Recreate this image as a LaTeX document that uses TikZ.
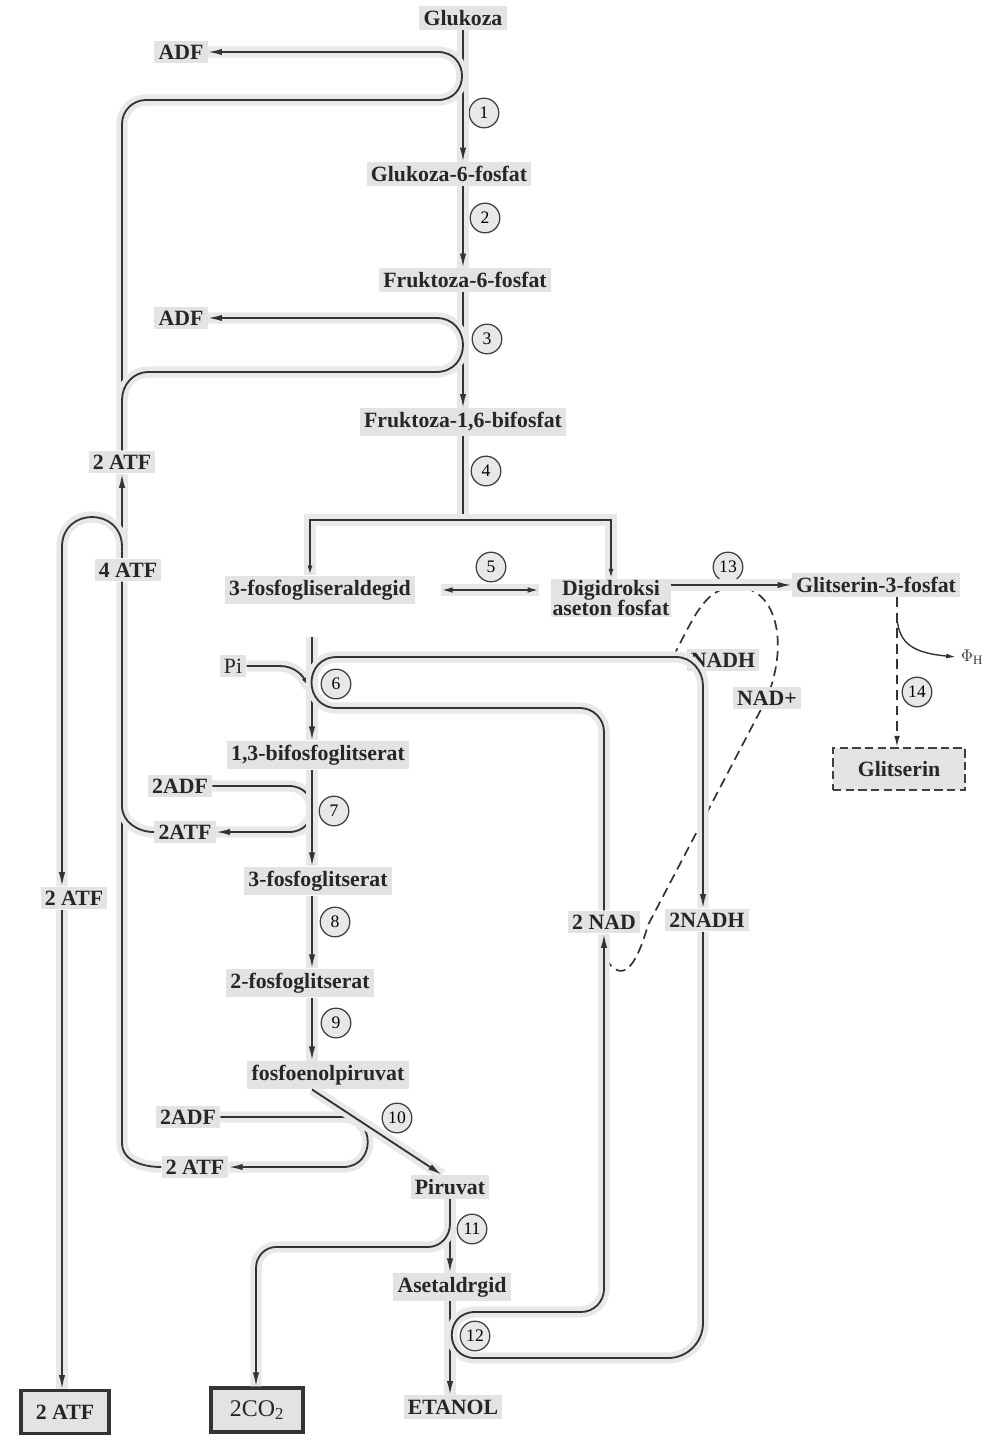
\documentclass[tikz,border=0pt]{standalone}
\usepackage{fontspec}
\setmainfont{Liberation Serif}
\usetikzlibrary{arrows.meta,backgrounds}

\tikzset{
  lbl/.style={fill=gray!22, text=black!85, inner sep=3pt, font=\bfseries\fontsize{15.5}{17}\selectfont},
  stp/.style={circle, draw=black!75, fill=gray!18, line width=0.9pt, minimum size=0.74cm, inner sep=0pt, font=\fontsize{12.5}{12.5}\selectfont},
  ln/.style={draw=black!80, line width=1.3pt, preaction={draw=gray!18, line width=8pt, arrows=-}},
  arr/.style={ln, -{Latex[length=10pt,width=4.5pt]}},
  arrs/.style={ln, -{Latex[length=7pt,width=3.5pt]}},
  dsh/.style={draw=black!80, line width=1.2pt, dash pattern=on 7pt off 4pt},
}

\begin{document}
\begin{tikzpicture}[x=0.025cm,y=-0.025cm]
  \useasboundingbox (0,0) rectangle (991,1436);
  \coordinate (ax) at (463,0);
  \coordinate (ax2) at (312,0);
  \coordinate (ax3) at (450,0);
  \coordinate (inner) at (122,0);
  \coordinate (outer) at (62,0);
  \coordinate (rv) at (703,0);
  \coordinate (gx) at (897,0);

  % metabolites
  \node[lbl] (glu) at (463,18) {Glukoza};
  \node[lbl] (g6p) at (449,174) {Glukoza-6-fosfat};
  \node[lbl] (f6p) at (465,280) {Fruktoza-6-fosfat};
  \node[lbl] (f16) at (463,422) {Fruktoza-1,6-bifosfat};
  \node[lbl] (gap) at (320,590) {3-fosfogliseraldegid};
  \node[lbl, align=center, inner sep=1pt] (dhap) at (611,598) {Digidroksi\\[-3pt]aseton fosfat};
  \node[lbl] (g3p) at (876,585) {Glitserin-3-fosfat};
  \node[lbl] (bpg) at (318,755) {1,3-bifosfoglitserat};
  \node[lbl] (pg3) at (318,881) {3-fosfoglitserat};
  \node[lbl] (pg2) at (300,983) {2-fosfoglitserat};
  \node[lbl] (pep) at (328,1075) {fosfoenolpiruvat};
  \node[lbl] (pir) at (450,1187) {Piruvat};
  \node[lbl] (asa) at (452,1287) {Asetaldrgid};
  \node[lbl] (eta) at (453,1407) {ETANOL};
  \node[lbl, draw=black!75, dash pattern=on 6pt off 3pt, line width=1.1pt, minimum width=3.3cm, minimum height=1.05cm] (gly) at (899,769) {Glitserin};

  % cofactors
  \node[lbl] (adf1) at (181,52) {ADF};
  \node[lbl] (adf2) at (181,318) {ADF};
  \node[lbl] (atp2a) at (122,462) {2 ATF};
  \node[lbl] (atp4) at (128,570) {4 ATF};
  \node[lbl] (atp2b) at (74,898) {2 ATF};
  \node[lbl, font=\fontsize{15.5}{17}\selectfont] (pi) at (233,666) {Pi};
  \node[lbl] (adf7) at (180,786) {2ADF};
  \node[lbl] (atp7) at (185,832) {2ATF};
  \node[lbl] (adf10) at (188,1117) {2ADF};
  \node[lbl] (atp10) at (195,1167) {2 ATF};
  \node[lbl] (nadh) at (723,660) {NADH};
  \node[lbl] (nadp) at (767,698) {NAD+};
  \node[lbl] (nad2) at (604,922) {2 NAD};
  \node[lbl] (nadh2) at (707,920) {2NADH};
  \node[text=black!80, font=\fontsize{13}{13}\selectfont] (phi) at (972,657) {$\Phi_{\mathrm{H}}$};
  \node[lbl, draw=black!80, line width=2.2pt, minimum width=2.2cm, minimum height=1.07cm] (atpbox) at (65,1412) {2 ATF};
  \node[lbl, draw=black!80, line width=2.2pt, minimum width=2.3cm, minimum height=1.1cm, font=\fontsize{17}{17}\selectfont] (co2) at (257,1410) {2CO\textsubscript{2}};

  % enzyme steps
  \foreach \n/\x/\y in {1/484/113, 2/485/218, 3/487/339, 4/486/471, 5/491/567,
    6/336/684, 7/334/811, 8/335/922, 9/336/1023, 10/397/1118, 11/472/1229,
    12/475/1336, 13/728/567, 14/917/692}
    \node[stp] (s\n) at (\x,\y) {\n};

  % upper trunk
  \draw[arr] (glu.south) -- (ax |- g6p.north);
  \draw[arr] (ax |- g6p.south) -- (ax |- f6p.north);
  \draw[arr] (ax |- f6p.south) -- (ax |- f16.north);
  \draw[ln] (ax |- f16.south) -- (463,520) coordinate (fork);
  \draw[arrs] (fork) -| ([xshift=-0.25cm]gap.north);
  \draw[arrs] (fork) -| (dhap.north);
  \draw[ln, {Latex[length=8pt,width=4pt]}-{Latex[length=8pt,width=4pt]}] ([xshift=0.65cm]gap.east) -- ([xshift=-0.3cm]gap.east -| dhap.west);
  \draw[arr] (dhap.east |- g3p.west) -- (g3p.west);

  % ATF / ADF
  \draw[arr] (atp2a.north) -- (122,124) to[out=90,in=180] (146,100) -- (438,100)
    .. controls (470,100) and (470,52) .. (438,52) -- (adf1.east);
  \draw[arr] (122,400) to[out=90,in=180] (148,372) -- (436,372)
    .. controls (472,372) and (472,318) .. (436,318) -- (adf2.east);
  \draw[arr] (atp2a.south |- atp4.north) -- (atp2a.south);
  \draw[arr] (122,551) -- (122,547) .. controls (122,507) and (62,507) .. (62,547) -- (outer |- atp2b.north);
  \draw[arr] (outer |- atp2b.south) -- (outer |- atpbox.north);
  \draw[ln] (inner |- atp4.south) -- (122,1143) to[out=-90,in=180] (atp10.west);
  \draw[ln] (122,806) to[out=-90,in=180] (atp7.west);
  \draw[arr] (adf7.east) -- (289,786) .. controls (320,786) and (320,832) .. (289,832) -- (atp7.east);
  \draw[arr] (adf10.east) -- (343,1117) .. controls (376,1117) and (376,1167) .. (343,1167) -- (atp10.east);

  % lower trunk
  \draw[arr] (312,637) -- (ax2 |- bpg.north);
  \draw[arrs] (pi.east) -- (280,666) to[out=0,in=120] (309,687);
  \draw[arr] (ax2 |- bpg.south) -- (ax2 |- pg3.north);
  \draw[arr] (ax2 |- pg3.south) -- (ax2 |- pg2.north);
  \draw[arr] (ax2 |- pg2.south) -- (ax2 |- pep.north);
  \draw[arr] (ax2 |- pep.south) -- ([xshift=-0.2cm]pir.north);
  \draw[arr] (pir.south) -- (ax3 |- asa.north);
  \draw[arr] (450,1224) to[out=-90,in=0] (428,1247) -- (276,1247) to[out=180,in=90] (256,1268) -- (co2.north -| 256,0);
  \draw[arr] (ax3 |- asa.south) -- (ax3 |- eta.north);

  % NAD / NADH
  \draw[arr] (nad2.north) -- (604,732) to[out=90,in=0] (580,708) -- (337,708)
    .. controls (303,708) and (303,657) .. (337,657) -- (676,657)
    to[out=0,in=90] (703,686) -- (rv |- nadh2.north);
  \draw[arr] (rv |- nadh2.south) -- (703,1323) to[out=-90,in=0] (668,1358) -- (475,1358)
    .. controls (444,1358) and (444,1312) .. (475,1312) -- (581,1312)
    to[out=0,in=-90] (604,1289) -- (nad2.south);
  \begin{scope}[on background layer]
    \draw[dsh] (673,657) .. controls (695,615) and (705,588) .. (735,587)
      .. controls (775,586) and (790,640) .. (nadp.center) -- (648,925)
      .. controls (638,960) and (625,985) .. (608,962);
  \end{scope}

  % glitserin
  \draw[dsh, -{Latex[length=8pt,width=4pt]}] (gx |- g3p.south) -- (gx |- gly.north);
  \draw[draw=black!80, line width=1pt, -{Latex[length=7pt,width=3.5pt]}] (897,618) .. controls (899,645) and (915,653) .. (phi.west);
\end{tikzpicture}
\end{document}
